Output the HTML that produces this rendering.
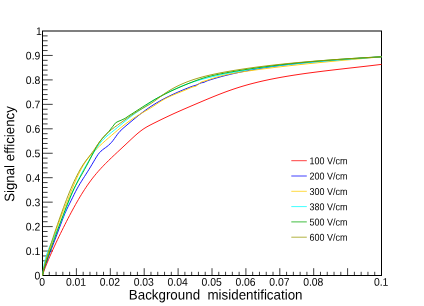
<!DOCTYPE html><html><head><meta charset="utf-8"><title>ROC</title>
<style>html,body{margin:0;padding:0;background:#fff}svg{display:block}text{font-family:"Liberation Sans",Arial,Helvetica,sans-serif;fill:#000}</style></head><body>
<svg width="424" height="306" viewBox="0 0 424 306">
<rect width="424" height="306" fill="#fff"/>
<rect x="42.50" y="31.00" width="339.00" height="244.50" fill="none" stroke="#000" stroke-width="1.00"/>
<path d="M42.50 275.50V268.20M49.28 275.50V271.80M56.06 275.50V271.80M62.84 275.50V271.80M69.62 275.50V271.80M76.40 275.50V268.20M83.18 275.50V271.80M89.96 275.50V271.80M96.74 275.50V271.80M103.52 275.50V271.80M110.30 275.50V268.20M117.08 275.50V271.80M123.86 275.50V271.80M130.64 275.50V271.80M137.42 275.50V271.80M144.20 275.50V268.20M150.98 275.50V271.80M157.76 275.50V271.80M164.54 275.50V271.80M171.32 275.50V271.80M178.10 275.50V268.20M184.88 275.50V271.80M191.66 275.50V271.80M198.44 275.50V271.80M205.22 275.50V271.80M212.00 275.50V268.20M218.78 275.50V271.80M225.56 275.50V271.80M232.34 275.50V271.80M239.12 275.50V271.80M245.90 275.50V268.20M252.68 275.50V271.80M259.46 275.50V271.80M266.24 275.50V271.80M273.02 275.50V271.80M279.80 275.50V268.20M286.58 275.50V271.80M293.36 275.50V271.80M300.14 275.50V271.80M306.92 275.50V271.80M313.70 275.50V268.20M320.48 275.50V271.80M327.26 275.50V271.80M334.04 275.50V271.80M340.82 275.50V271.80M347.60 275.50V268.20M354.38 275.50V271.80M361.16 275.50V271.80M367.94 275.50V271.80M374.72 275.50V271.80M381.50 275.50V268.20M42.50 275.50H52.70M42.50 260.83H47.60M42.50 255.94H47.60M42.50 251.05H52.70M42.50 246.16H47.60M42.50 241.27H47.60M42.50 236.38H47.60M42.50 231.49H47.60M42.50 226.60H52.70M42.50 221.71H47.60M42.50 216.82H47.60M42.50 211.93H47.60M42.50 207.04H47.60M42.50 202.15H52.70M42.50 197.26H47.60M42.50 192.37H47.60M42.50 187.48H47.60M42.50 182.59H47.60M42.50 177.70H52.70M42.50 172.81H47.60M42.50 167.92H47.60M42.50 163.03H47.60M42.50 158.14H47.60M42.50 153.25H52.70M42.50 148.36H47.60M42.50 143.47H47.60M42.50 138.58H47.60M42.50 133.69H47.60M42.50 128.80H52.70M42.50 123.91H47.60M42.50 119.02H47.60M42.50 114.13H47.60M42.50 109.24H47.60M42.50 104.35H52.70M42.50 99.46H47.60M42.50 94.57H47.60M42.50 89.68H47.60M42.50 84.79H47.60M42.50 79.90H52.70M42.50 75.01H47.60M42.50 70.12H47.60M42.50 65.23H47.60M42.50 60.34H47.60M42.50 55.45H52.70M42.50 50.56H47.60M42.50 45.67H47.60M42.50 40.78H47.60M42.50 35.89H47.60" stroke="#000" stroke-width="0.75" fill="none"/>
<polyline fill="none" stroke="#ff0000" stroke-width="0.90" stroke-linejoin="round" points="42.50,275.50 44.00,270.75 45.50,266.85 47.00,263.15 48.50,259.57 50.00,256.09 51.50,252.69 53.00,249.35 54.50,246.08 56.00,242.85 57.50,239.67 59.00,236.54 60.50,233.45 62.00,230.40 63.50,227.39 65.00,224.41 66.50,221.46 68.00,218.55 69.50,215.67 71.00,212.83 72.50,210.04 74.00,207.29 75.50,204.59 77.00,201.95 78.50,199.36 80.00,196.83 81.50,194.36 83.00,191.96 84.50,189.61 86.00,187.34 87.50,185.13 89.00,183.00 90.50,180.93 92.00,178.94 93.50,177.01 95.00,175.16 96.50,173.37 98.00,171.63 99.50,169.95 101.00,168.31 102.50,166.71 104.00,165.14 105.50,163.61 107.00,162.11 108.50,160.62 110.00,159.16 111.50,157.72 113.00,156.29 114.50,154.88 116.00,153.47 117.50,152.07 119.00,150.67 120.00,149.74 123.00,146.95 126.00,144.15 129.00,141.32 132.00,138.49 135.00,135.73 138.00,133.12 141.00,130.73 144.00,128.60 147.00,126.77 150.00,125.15 153.00,123.62 156.00,122.13 159.00,120.65 162.00,119.18 165.00,117.74 168.00,116.32 171.00,114.92 174.00,113.54 177.00,112.19 180.00,110.86 183.00,109.54 186.00,108.24 189.00,106.94 192.00,105.66 195.00,104.38 198.00,103.10 201.00,101.83 204.00,100.56 207.00,99.30 210.00,98.05 213.00,96.82 216.00,95.61 219.00,94.43 222.00,93.27 225.00,92.14 228.00,91.04 231.00,89.97 234.00,88.94 237.00,87.96 240.00,87.01 243.00,86.10 246.00,85.23 249.00,84.39 252.00,83.59 255.00,82.83 258.00,82.09 261.00,81.38 264.00,80.70 267.00,80.05 270.00,79.42 273.00,78.82 276.00,78.24 279.00,77.68 282.00,77.13 285.00,76.61 288.00,76.11 291.00,75.62 294.00,75.15 297.00,74.69 300.00,74.24 303.00,73.81 306.00,73.39 309.00,72.98 312.00,72.58 315.00,72.19 318.00,71.80 321.00,71.43 324.00,71.06 327.00,70.70 330.00,70.34 333.00,69.98 336.00,69.63 339.00,69.29 342.00,68.94 345.00,68.60 348.00,68.26 351.00,67.92 354.00,67.58 357.00,67.24 360.00,66.90 363.00,66.56 366.00,66.22 369.00,65.87 372.00,65.52 375.00,65.17 378.00,64.81 381.00,64.45 381.50,64.39"/>
<polyline fill="none" stroke="#0000ff" stroke-width="0.90" stroke-linejoin="round" points="42.50,275.50 44.00,268.88 45.50,264.59 47.00,260.56 48.50,256.62 50.00,252.71 51.50,248.81 53.00,244.89 54.50,240.95 56.00,236.98 57.50,232.97 59.00,228.94 60.50,224.89 62.00,220.86 63.50,216.90 65.00,213.25 66.50,209.93 68.00,206.82 69.50,203.81 71.00,200.82 72.50,197.77 74.00,194.70 75.50,191.70 77.00,188.86 78.50,186.20 80.00,183.66 81.50,181.22 83.00,178.84 84.50,176.49 86.00,174.15 87.50,171.78 89.00,169.38 90.50,166.92 92.00,164.42 93.50,161.89 95.00,159.33 96.50,156.84 98.00,154.56 99.50,152.65 101.00,151.11 102.50,149.83 104.00,148.71 105.50,147.64 107.00,146.52 108.50,145.30 110.00,143.92 111.50,142.33 113.00,140.50 114.50,138.46 116.00,136.33 117.50,134.26 119.00,132.36 120.00,131.24 123.00,128.36 126.00,125.80 129.00,123.28 132.00,120.77 135.00,118.30 138.00,115.89 141.00,113.54 144.00,111.28 147.00,109.11 150.00,107.04 153.00,105.09 156.00,103.24 159.00,101.49 162.00,99.82 165.00,98.23 168.00,96.71 171.00,95.26 174.00,93.86 177.00,92.51 180.00,91.21 183.00,89.95 186.00,88.72 189.00,87.52 192.00,86.35 196.00,85.20 201.00,82.90 204.00,82.30 207.00,80.87 210.00,79.90 213.00,78.97 216.00,78.08 219.00,77.24 222.00,76.42 225.00,75.64 228.00,74.90 231.00,74.18 234.00,73.48 237.00,72.82 240.00,72.18 243.00,71.56 246.00,70.97 249.00,70.40 252.00,69.85 255.00,69.32 258.00,68.81 261.00,68.31 264.00,67.84 267.00,67.38 270.00,66.94 273.00,66.51 276.00,66.10 279.00,65.71 282.00,65.32 285.00,64.95 288.00,64.59 291.00,64.24 294.00,63.91 297.00,63.58 300.00,63.26 303.00,62.95 306.00,62.66 309.00,62.37 312.00,62.08 315.00,61.81 318.00,61.54 321.00,61.28 324.00,61.02 327.00,60.77 330.00,60.52 333.00,60.28 336.00,60.05 339.00,59.82 342.00,59.59 345.00,59.36 348.00,59.14 351.00,58.93 354.00,58.71 357.00,58.50 360.00,58.28 363.00,58.07 366.00,57.87 369.00,57.66 372.00,57.45 375.00,57.25 378.00,57.04 381.00,56.84 381.50,56.80"/>
<polyline fill="none" stroke="#ffcc00" stroke-width="0.90" stroke-linejoin="round" points="42.50,275.50 44.00,267.29 45.50,262.20 47.00,257.52 48.50,253.01 50.00,248.57 51.50,244.18 53.00,239.80 54.50,235.43 56.00,231.04 57.50,226.65 59.00,222.33 60.50,218.16 62.00,214.20 63.50,210.45 65.00,206.80 66.50,203.16 68.00,199.46 69.50,195.67 71.00,191.86 72.50,188.11 74.00,184.47 75.50,180.96 77.00,177.59 78.50,174.38 80.00,171.34 81.50,168.49 83.00,165.82 84.50,163.35 86.00,161.08 87.50,159.01 89.00,157.10 90.50,155.32 92.00,153.64 93.50,152.04 95.00,150.49 96.50,148.98 98.00,147.51 99.50,146.07 101.00,144.66 102.50,143.28 104.00,141.92 105.50,140.59 107.00,139.27 108.50,137.96 110.00,136.67 111.50,135.39 113.00,134.11 114.50,132.84 116.00,131.59 117.50,130.34 119.00,129.11 120.00,128.29 123.00,125.90 126.00,123.59 129.00,121.37 132.00,119.25 135.00,117.25 138.00,115.37 141.00,113.59 144.00,111.87 147.00,110.15 150.00,108.37 153.00,106.48 156.00,104.47 159.00,102.44 162.00,100.52 165.00,98.82 168.00,97.31 171.00,95.94 174.00,94.66 177.00,93.42 180.00,92.19 183.00,90.96 186.00,89.72 189.00,88.45 192.00,87.14 196.00,86.20 201.00,82.20 204.00,81.20 207.00,80.39 210.00,79.27 213.00,78.26 216.00,77.34 219.00,76.50 222.00,75.73 225.00,75.03 228.00,74.38 231.00,73.79 234.00,73.24 237.00,72.72 240.00,72.23 243.00,71.76 246.00,71.31 249.00,70.87 252.00,70.44 255.00,70.02 258.00,69.61 261.00,69.21 264.00,68.81 267.00,68.43 270.00,68.05 273.00,67.67 276.00,67.31 279.00,66.95 282.00,66.59 285.00,66.25 288.00,65.90 291.00,65.57 294.00,65.23 297.00,64.91 300.00,64.58 303.00,64.27 306.00,63.95 309.00,63.64 312.00,63.33 315.00,63.03 318.00,62.73 321.00,62.43 324.00,62.14 327.00,61.85 330.00,61.56 333.00,61.27 336.00,60.98 339.00,60.70 342.00,60.42 345.00,60.14 348.00,59.86 351.00,59.58 354.00,59.31 357.00,59.03 360.00,58.76 363.00,58.48 366.00,58.21 369.00,57.94 372.00,57.67 375.00,57.39 378.00,57.12 381.00,56.85 381.50,56.81"/>
<polyline fill="none" stroke="#00ffff" stroke-width="0.90" stroke-linejoin="round" points="42.50,275.50 44.00,264.79 45.50,258.37 47.00,253.44 48.50,249.40 50.00,245.81 51.50,242.47 53.00,239.25 54.50,236.06 56.00,232.85 57.50,229.58 59.00,226.22 60.50,222.76 62.00,219.17 63.50,215.45 65.00,211.60 66.50,207.67 68.00,203.74 69.50,199.84 71.00,196.04 72.50,192.37 74.00,188.86 75.50,185.52 77.00,182.34 78.50,179.30 80.00,176.37 81.50,173.54 83.00,170.79 84.50,168.12 86.00,165.51 87.50,162.95 89.00,160.43 90.50,157.94 92.00,155.47 93.50,153.03 95.00,150.60 96.50,148.22 98.00,145.96 99.50,143.86 101.00,141.96 102.50,140.26 104.00,138.71 105.50,137.30 107.00,135.98 108.50,134.73 110.00,133.53 111.50,132.34 113.00,131.15 114.50,129.94 116.00,128.71 117.50,127.48 119.00,126.24 120.00,125.41 123.00,122.92 126.00,120.44 129.00,118.02 132.00,115.68 135.00,113.47 138.00,111.41 141.00,109.46 144.00,107.38 147.00,105.06 150.00,102.74 153.00,100.66 156.00,98.79 159.00,97.09 162.00,95.47 165.00,93.90 168.00,92.37 171.00,90.88 174.00,89.45 177.00,88.08 180.00,86.78 183.00,85.57 186.00,84.42 189.00,83.35 192.00,82.34 195.00,81.38 198.00,80.48 201.00,79.62 204.00,78.80 207.00,78.02 210.00,77.27 213.00,76.55 216.00,75.86 219.00,75.19 222.00,74.54 225.00,73.92 228.00,73.32 231.00,72.73 234.00,72.17 237.00,71.63 240.00,71.10 243.00,70.59 246.00,70.10 249.00,69.62 252.00,69.15 255.00,68.71 258.00,68.27 261.00,67.85 264.00,67.44 267.00,67.04 270.00,66.66 273.00,66.28 276.00,65.92 279.00,65.56 282.00,65.22 285.00,64.88 288.00,64.55 291.00,64.23 294.00,63.92 297.00,63.62 300.00,63.32 303.00,63.03 306.00,62.74 309.00,62.47 312.00,62.19 315.00,61.92 318.00,61.66 321.00,61.40 324.00,61.15 327.00,60.90 330.00,60.65 333.00,60.41 336.00,60.17 339.00,59.94 342.00,59.70 345.00,59.47 348.00,59.25 351.00,59.02 354.00,58.80 357.00,58.57 360.00,58.35 363.00,58.13 366.00,57.91 369.00,57.70 372.00,57.48 375.00,57.26 378.00,57.05 381.00,56.83 381.50,56.80"/>
<polyline fill="none" stroke="#00a800" stroke-width="0.90" stroke-linejoin="round" points="42.50,275.50 44.00,268.87 45.50,264.09 47.00,259.60 48.50,255.25 50.00,251.00 51.50,246.80 53.00,242.65 54.50,238.54 56.00,234.45 57.50,230.38 59.00,226.33 60.50,222.29 62.00,218.26 63.50,214.25 65.00,210.26 66.50,206.33 68.00,202.51 69.50,198.81 71.00,195.28 72.50,191.93 74.00,188.78 75.50,185.81 77.00,182.97 78.50,180.22 80.00,177.54 81.50,174.88 83.00,172.22 84.50,169.54 86.00,166.81 87.50,164.01 89.00,161.13 90.50,158.17 92.00,155.20 93.50,152.28 95.00,149.47 96.50,146.80 98.00,144.34 99.50,142.11 101.00,140.13 102.50,138.32 104.00,136.64 105.50,135.01 107.00,133.39 109.00,131.30 112.50,126.75 115.60,122.80 118.00,121.50 121.00,120.30 125.00,118.43 129.00,115.66 132.00,113.78 135.00,111.85 138.00,109.91 141.00,107.97 144.00,106.04 147.00,104.15 150.00,102.30 153.00,100.52 156.00,98.80 159.00,97.16 162.00,95.57 165.00,94.04 168.00,92.57 171.00,91.14 174.00,89.75 177.00,88.40 180.00,87.08 183.00,85.80 186.00,84.54 189.00,83.31 192.00,82.11 195.00,80.95 198.00,79.85 201.00,78.81 204.00,77.85 207.00,76.98 210.00,76.19 213.00,75.47 216.00,74.80 219.00,74.17 222.00,73.58 225.00,73.02 228.00,72.47 231.00,71.93 234.00,71.41 237.00,70.91 240.00,70.41 243.00,69.93 246.00,69.46 249.00,69.00 252.00,68.55 255.00,68.11 258.00,67.68 261.00,67.27 264.00,66.86 267.00,66.46 270.00,66.08 273.00,65.70 276.00,65.33 279.00,64.97 282.00,64.62 285.00,64.28 288.00,63.94 291.00,63.62 294.00,63.30 297.00,62.99 300.00,62.69 303.00,62.39 306.00,62.10 309.00,61.82 312.00,61.55 315.00,61.28 318.00,61.02 321.00,60.76 324.00,60.51 327.00,60.27 330.00,60.04 333.00,59.81 336.00,59.58 339.00,59.36 342.00,59.15 345.00,58.94 348.00,58.74 351.00,58.54 354.00,58.35 357.00,58.16 360.00,57.98 363.00,57.80 366.00,57.63 369.00,57.46 372.00,57.30 375.00,57.14 378.00,56.98 381.00,56.83 381.50,56.81"/>
<polyline fill="none" stroke="#999900" stroke-width="0.90" stroke-linejoin="round" points="42.50,275.50 44.00,267.36 45.50,261.72 47.00,256.53 48.50,251.59 50.00,246.82 51.50,242.17 53.00,237.61 54.50,233.14 56.00,228.74 57.50,224.40 59.00,220.12 60.50,215.88 62.00,211.70 63.50,207.58 65.00,203.54 66.50,199.59 68.00,195.76 69.50,192.04 71.00,188.44 72.50,184.97 74.00,181.63 75.50,178.44 77.00,175.40 78.50,172.52 80.00,169.79 81.50,167.22 83.00,164.82 84.50,162.59 86.00,160.51 87.50,158.55 89.00,156.64 90.50,154.72 92.00,152.75 93.50,150.67 95.00,148.50 96.50,146.28 98.00,144.08 99.50,141.96 101.00,139.95 102.50,138.11 104.00,136.43 105.50,134.87 107.00,133.43 108.50,132.09 110.00,130.81 111.50,129.59 113.00,128.42 114.50,127.29 116.00,126.19 117.50,125.11 119.00,124.05 120.00,123.34 123.00,121.24 126.00,119.11 129.00,116.95 132.00,114.82 135.00,112.79 138.00,110.91 141.00,109.18 144.00,107.53 147.00,105.86 150.00,104.09 153.00,102.13 156.00,99.97 159.00,97.69 162.00,95.45 165.00,93.33 168.00,91.37 171.00,89.56 174.00,87.88 177.00,86.32 180.00,84.88 183.00,83.55 186.00,82.31 189.00,81.16 192.00,80.09 195.00,79.10 198.00,78.18 201.00,77.32 204.00,76.51 207.00,75.76 210.00,75.05 213.00,74.38 216.00,73.74 219.00,73.14 222.00,72.56 225.00,72.01 228.00,71.47 231.00,70.95 234.00,70.45 237.00,69.96 240.00,69.49 243.00,69.03 246.00,68.58 249.00,68.15 252.00,67.73 255.00,67.32 258.00,66.92 261.00,66.54 264.00,66.17 267.00,65.80 270.00,65.45 273.00,65.11 276.00,64.77 279.00,64.45 282.00,64.13 285.00,63.82 288.00,63.52 291.00,63.23 294.00,62.94 297.00,62.67 300.00,62.39 303.00,62.13 306.00,61.87 309.00,61.62 312.00,61.37 315.00,61.13 318.00,60.89 321.00,60.66 324.00,60.44 327.00,60.22 330.00,60.00 333.00,59.79 336.00,59.58 339.00,59.38 342.00,59.17 345.00,58.98 348.00,58.78 351.00,58.59 354.00,58.41 357.00,58.22 360.00,58.04 363.00,57.86 366.00,57.68 369.00,57.51 372.00,57.34 375.00,57.17 378.00,57.00 381.00,56.83 381.50,56.80"/>
<text transform="translate(42.10,285.8) rotate(0.03) scale(0.945,1)" font-size="11.0" text-anchor="middle">0</text>
<text transform="translate(76.00,285.8) rotate(0.03) scale(0.945,1)" font-size="11.0" text-anchor="middle">0.01</text>
<text transform="translate(109.90,285.8) rotate(0.03) scale(0.945,1)" font-size="11.0" text-anchor="middle">0.02</text>
<text transform="translate(143.80,285.8) rotate(0.03) scale(0.945,1)" font-size="11.0" text-anchor="middle">0.03</text>
<text transform="translate(177.70,285.8) rotate(0.03) scale(0.945,1)" font-size="11.0" text-anchor="middle">0.04</text>
<text transform="translate(211.60,285.8) rotate(0.03) scale(0.945,1)" font-size="11.0" text-anchor="middle">0.05</text>
<text transform="translate(245.50,285.8) rotate(0.03) scale(0.945,1)" font-size="11.0" text-anchor="middle">0.06</text>
<text transform="translate(279.40,285.8) rotate(0.03) scale(0.945,1)" font-size="11.0" text-anchor="middle">0.07</text>
<text transform="translate(313.30,285.8) rotate(0.03) scale(0.945,1)" font-size="11.0" text-anchor="middle">0.08</text>
<text transform="translate(381.10,285.8) rotate(0.03) scale(0.945,1)" font-size="11.0" text-anchor="middle">0.1</text>
<text transform="translate(40.30,279.50) rotate(0.03) scale(0.945,1)" font-size="11.0" text-anchor="end">0</text>
<text transform="translate(40.30,255.05) rotate(0.03) scale(0.945,1)" font-size="11.0" text-anchor="end">0.1</text>
<text transform="translate(40.30,230.60) rotate(0.03) scale(0.945,1)" font-size="11.0" text-anchor="end">0.2</text>
<text transform="translate(40.30,206.15) rotate(0.03) scale(0.945,1)" font-size="11.0" text-anchor="end">0.3</text>
<text transform="translate(40.30,181.70) rotate(0.03) scale(0.945,1)" font-size="11.0" text-anchor="end">0.4</text>
<text transform="translate(40.30,157.25) rotate(0.03) scale(0.945,1)" font-size="11.0" text-anchor="end">0.5</text>
<text transform="translate(40.30,132.80) rotate(0.03) scale(0.945,1)" font-size="11.0" text-anchor="end">0.6</text>
<text transform="translate(40.30,108.35) rotate(0.03) scale(0.945,1)" font-size="11.0" text-anchor="end">0.7</text>
<text transform="translate(40.30,83.90) rotate(0.03) scale(0.945,1)" font-size="11.0" text-anchor="end">0.8</text>
<text transform="translate(40.30,59.45) rotate(0.03) scale(0.945,1)" font-size="11.0" text-anchor="end">0.9</text>
<text transform="translate(41.90,35.00) rotate(0.03) scale(0.945,1)" font-size="11.0" text-anchor="end">1</text>
<text transform="translate(128.8,299.4) rotate(0.03) scale(0.955,1)" font-size="14" xml:space="preserve">Background  misidentification</text>
<text transform="translate(14.3,201.8) rotate(-89.97) scale(0.955,1)" font-size="13.9">Signal efficiency</text>
<line x1="291.3" x2="306.8" y1="160.70" y2="160.70" stroke="#ff0000" stroke-width="0.75"/>
<text transform="translate(309.6,164.30) rotate(0.03) scale(0.897,1)" font-size="10">100 V/cm</text>
<line x1="291.3" x2="306.8" y1="176.00" y2="176.00" stroke="#0000ff" stroke-width="0.75"/>
<text transform="translate(309.6,179.60) rotate(0.03) scale(0.897,1)" font-size="10">200 V/cm</text>
<line x1="291.3" x2="306.8" y1="191.30" y2="191.30" stroke="#ffcc00" stroke-width="0.75"/>
<text transform="translate(309.6,194.90) rotate(0.03) scale(0.897,1)" font-size="10">300 V/cm</text>
<line x1="291.3" x2="306.8" y1="206.60" y2="206.60" stroke="#00ffff" stroke-width="0.75"/>
<text transform="translate(309.6,210.20) rotate(0.03) scale(0.897,1)" font-size="10">380 V/cm</text>
<line x1="291.3" x2="306.8" y1="221.90" y2="221.90" stroke="#00a800" stroke-width="0.75"/>
<text transform="translate(309.6,225.50) rotate(0.03) scale(0.897,1)" font-size="10">500 V/cm</text>
<line x1="291.3" x2="306.8" y1="237.20" y2="237.20" stroke="#999900" stroke-width="0.75"/>
<text transform="translate(309.6,240.80) rotate(0.03) scale(0.897,1)" font-size="10">600 V/cm</text>
</svg></body></html>
